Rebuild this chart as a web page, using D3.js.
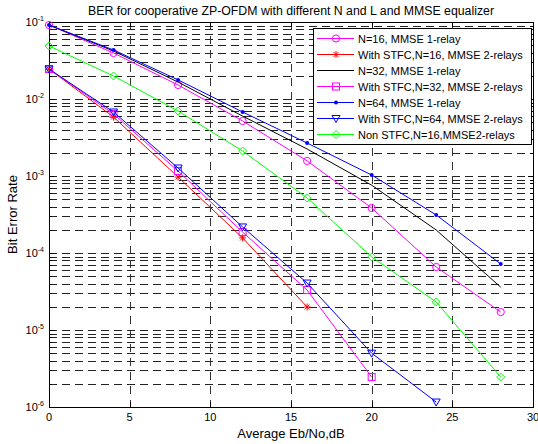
<!DOCTYPE html>
<html>
<head>
<meta charset="utf-8">
<script src="https://cdnjs.cloudflare.com/ajax/libs/d3/7.8.5/d3.min.js"></script>
<style>
  body { margin: 0; background: #fff; }
  text { font-family: "Liberation Sans", Arial, sans-serif; fill: #000; }
</style>
</head>
<body>
<div id="chart"></div>
<script>
// Eb/No Werte (dB)
var ebno = [0, 4, 8, 12, 16, 20, 24, 28];

// BER Kurven
var n16Relay1 = [0.0914, 0.0396, 0.0152, 0.00518, 0.00157, 3.84e-4, 6.58e-5, 1.71e-5];
var stfcN16Relay2 = [0.0245, 0.00583, 9.7e-4, 1.57e-4, 1.99e-5];
var n32Relay1 = [0.0914, 0.0420, 0.0166, 0.0060, 0.00224, 7.6e-4, 1.99e-4, 3.6e-5];
var stfcN32Relay2 = [0.0245, 0.00638, 0.00116, 1.87e-4, 3.3e-5, 2.45e-6];
var n64Relay1 = [0.0914, 0.0433, 0.0177, 0.00678, 0.00268, 0.00103, 3.12e-4, 7.2e-5];
var stfcN64Relay2 = [0.0245, 0.00678, 0.00127, 2.18e-4, 4.07e-5, 5.0e-6, 1.16e-6];
var nonStfcN16Relay2 = [0.0488, 0.0199, 0.00698, 0.00211, 5.18e-4, 8.9e-5, 2.31e-5, 2.45e-6];

var legendNames = [
  "N=16, MMSE 1-relay",
  "With STFC,N=16, MMSE 2-relays",
  "N=32, MMSE 1-relay",
  "With STFC,N=32, MMSE 2-relays",
  "N=64, MMSE 1-relay",
  "With STFC,N=64, MMSE 2-relays",
  "Non STFC,N=16,MMSE2-relays"
];

var xTicks = [0, 5, 10, 15, 20, 25, 30];
var yExponents = [-1, -2, -3, -4, -5, -6];

// Stil jeder Kurve
var series = [
  { values: n16Relay1, color: "#ff00ff", marker: "circle" },
  { values: stfcN16Relay2, color: "#ff0000", marker: "star" },
  { values: n32Relay1, color: "#000000", marker: "none" },
  { values: stfcN32Relay2, color: "#ff00ff", marker: "square" },
  { values: n64Relay1, color: "#0000ff", marker: "dot" },
  { values: stfcN64Relay2, color: "#0000ff", marker: "triangle" },
  { values: nonStfcN16Relay2, color: "#00ff00", marker: "diamond" }
];

// Plotbereich
var margin = { top: 22, right: 5, bottom: 37, left: 49 };
var width = 538 - margin.left - margin.right;
var height = 444 - margin.top - margin.bottom;

var svg = d3.select("#chart").append("svg")
  .attr("width", 538)
  .attr("height", 444)
  .append("g")
  .attr("transform", "translate(" + margin.left + "," + margin.top + ")");

var x = d3.scaleLinear().domain([0, 30]).range([0, width]);
var y = d3.scaleLog().domain([1e-6, 1e-1]).range([height, 0]);

// Gitter
var minorVals = [];
for (var e = -6; e < -1; e++) {
  for (var m = 1; m <= 9; m++) {
    var v = m * Math.pow(10, e);
    if (v > 1e-6 && v < 1e-1) minorVals.push(v);
  }
}

svg.selectAll(".hgrid")
  .data(minorVals)
  .enter().append("line")
  .attr("class", "hgrid")
  .attr("x1", 0).attr("x2", width)
  .attr("y1", function (d) { return Math.round(y(d)) + 0.5; })
  .attr("y2", function (d) { return Math.round(y(d)) + 0.5; })
  .attr("stroke", "#222")
  .attr("stroke-dasharray", "8,5");

svg.selectAll(".vgrid")
  .data(xTicks.slice(1, -1))
  .enter().append("line")
  .attr("class", "vgrid")
  .attr("y1", 0).attr("y2", height)
  .attr("x1", function (d) { return Math.round(x(d)) + 0.5; })
  .attr("x2", function (d) { return Math.round(x(d)) + 0.5; })
  .attr("stroke", "#333")
  .attr("stroke-dasharray", "8,6");

// Ticks innen (MATLAB Stil)
var ticks = svg.append("g").attr("stroke", "#000");
xTicks.forEach(function (d) {
  var px = Math.round(x(d)) + 0.5;
  ticks.append("line").attr("x1", px).attr("x2", px).attr("y1", height).attr("y2", height - 5);
  ticks.append("line").attr("x1", px).attr("x2", px).attr("y1", 0).attr("y2", 5);
});
minorVals.concat([1e-6, 1e-1]).forEach(function (d) {
  var py = Math.round(y(d)) + 0.5;
  var major = Math.abs(Math.log10(d) - Math.round(Math.log10(d))) < 1e-9;
  var len = major ? 5 : 3;
  ticks.append("line").attr("x1", 0).attr("x2", len).attr("y1", py).attr("y2", py);
  ticks.append("line").attr("x1", width).attr("x2", width - len).attr("y1", py).attr("y2", py);
});

// Rahmen
svg.append("rect")
  .attr("x", 0.5).attr("y", 0.5)
  .attr("width", width).attr("height", height)
  .attr("fill", "none")
  .attr("stroke", "#000");

// Tick Beschriftung
svg.selectAll(".xlab")
  .data(xTicks)
  .enter().append("text")
  .attr("class", "xlab")
  .attr("x", function (d) { return x(d); })
  .attr("y", height + 14)
  .attr("text-anchor", "middle")
  .style("font-size", "11px")
  .text(function (d) { return d; });

var ylab = svg.selectAll(".ylab")
  .data(yExponents)
  .enter().append("text")
  .attr("class", "ylab")
  .attr("x", -5)
  .attr("y", function (d) { return y(Math.pow(10, d)) + 4; })
  .attr("text-anchor", "end")
  .style("font-size", "11px");
ylab.append("tspan").text("10");
ylab.append("tspan")
  .attr("dy", -5)
  .style("font-size", "7px")
  .text(function (d) { return "-" + Math.abs(d); });

// Markierungen
function drawMarker(g, type, color, px, py) {
  if (type === "circle") {
    g.append("circle").attr("cx", px).attr("cy", py).attr("r", 3.6)
      .attr("fill", "none").attr("stroke", color);
  } else if (type === "dot") {
    g.append("circle").attr("cx", px).attr("cy", py).attr("r", 2)
      .attr("fill", color);
  } else if (type === "square") {
    g.append("rect").attr("x", px - 3.5).attr("y", py - 3.5).attr("width", 7).attr("height", 7)
      .attr("fill", "none").attr("stroke", color);
  } else if (type === "triangle") {
    g.append("path")
      .attr("d", "M" + (px - 4) + "," + (py - 3) + "L" + (px + 4) + "," + (py - 3) + "L" + px + "," + (py + 4) + "Z")
      .attr("fill", "none").attr("stroke", color);
  } else if (type === "diamond") {
    g.append("path")
      .attr("d", "M" + px + "," + (py - 4) + "L" + (px + 4) + "," + py + "L" + px + "," + (py + 4) + "L" + (px - 4) + "," + py + "Z")
      .attr("fill", "none").attr("stroke", color);
  } else if (type === "star") {
    var r = 3.5;
    var d = "M" + (px - r) + "," + py + "L" + (px + r) + "," + py +
      "M" + px + "," + (py - r) + "L" + px + "," + (py + r) +
      "M" + (px - 2.5) + "," + (py - 2.5) + "L" + (px + 2.5) + "," + (py + 2.5) +
      "M" + (px - 2.5) + "," + (py + 2.5) + "L" + (px + 2.5) + "," + (py - 2.5);
    g.append("path").attr("d", d).attr("stroke", color).attr("fill", "none");
  }
}

// Kurven zeichnen
var line = d3.line()
  .x(function (d, i) { return x(ebno[i]); })
  .y(function (d) { return y(d); });

series.forEach(function (s) {
  var g = svg.append("g");
  g.append("path")
    .datum(s.values)
    .attr("d", line)
    .attr("fill", "none")
    .attr("stroke", s.color)
    .attr("stroke-width", 1);
  s.values.forEach(function (v, i) {
    drawMarker(g, s.marker, s.color, x(ebno[i]), y(v));
  });
});

// Legende
var legend = svg.append("g")
  .attr("transform", "translate(" + (313 - margin.left) + "," + (28 - margin.top) + ")");
legend.append("rect")
  .attr("x", 0.5).attr("y", 0.5)
  .attr("width", 218).attr("height", 116)
  .attr("fill", "#fff")
  .attr("stroke", "#000");

legendNames.forEach(function (name, i) {
  var ly = 10.5 + i * 16;
  legend.append("line")
    .attr("x1", 4).attr("x2", 41)
    .attr("y1", ly).attr("y2", ly)
    .attr("stroke", series[i].color);
  drawMarker(legend, series[i].marker, series[i].color, 23, ly);
  legend.append("text")
    .attr("x", 45)
    .attr("y", ly + 4)
    .style("font-size", "11px")
    .text(name);
});

// Titel und Achsentitel
svg.append("text")
  .attr("x", width / 2)
  .attr("y", -7)
  .attr("text-anchor", "middle")
  .style("font-size", "12.3px")
  .text("BER for cooperative ZP-OFDM with different N and L and MMSE equalizer");

svg.append("text")
  .attr("x", width / 2)
  .attr("y", height + 31)
  .attr("text-anchor", "middle")
  .style("font-size", "13px")
  .text("Average Eb/No,dB");

svg.append("text")
  .attr("transform", "rotate(-90)")
  .attr("x", -height / 2)
  .attr("y", -32)
  .attr("text-anchor", "middle")
  .style("font-size", "13px")
  .text("Bit Error Rate");
</script>
</body>
</html>
